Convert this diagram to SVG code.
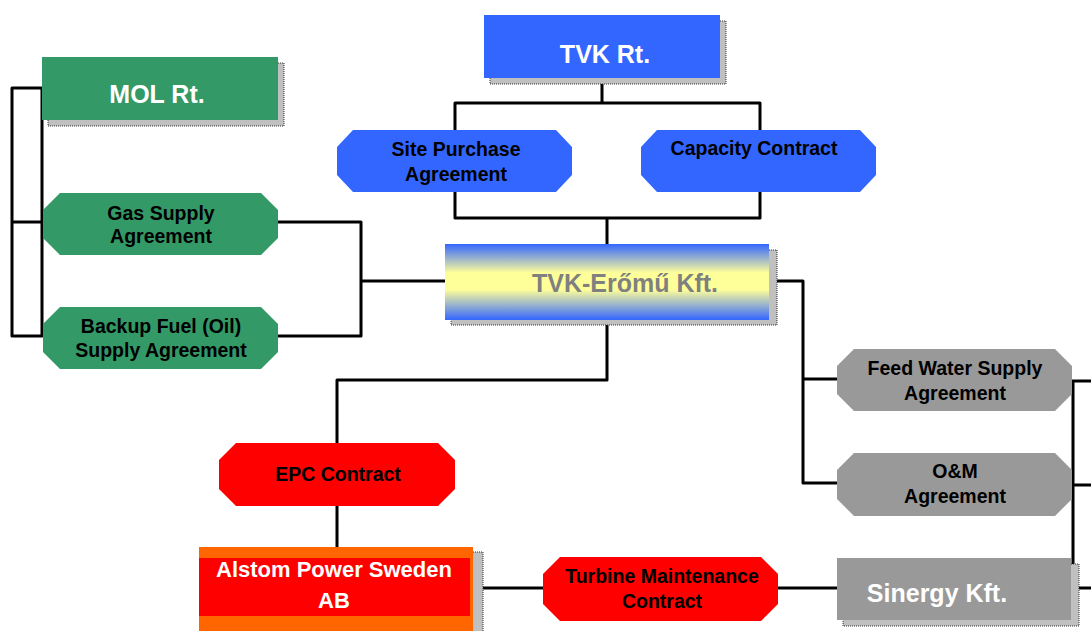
<svg xmlns="http://www.w3.org/2000/svg" width="1091" height="631" viewBox="0 0 1091 631">
<defs>
<linearGradient id="tvkGrad" x1="0" y1="0" x2="0" y2="1">
<stop offset="0" stop-color="#3366ff"/>
<stop offset="0.38" stop-color="#ffff99"/>
<stop offset="0.6" stop-color="#ffff99"/>
<stop offset="1" stop-color="#3366ff"/>
</linearGradient>
<style>
.shadow{fill:#c0c0c0;stroke:#333;stroke-width:1;stroke-dasharray:1,1}
.blue{fill:#3366ff}
.green{fill:#339966}
.red{fill:#ff0000}
.gray{fill:#999999}
.orange{fill:#ff6600}
.conn{fill:none;stroke:#000;stroke-width:3;stroke-linejoin:round;stroke-linecap:butt}
text{font-family:"Liberation Sans",Arial,sans-serif;font-weight:bold;text-anchor:middle}
.big{font-size:25px;fill:#fff}
.lbl{font-size:19.5px;fill:#000}
</style>
</defs>
<rect width="1091" height="631" fill="#fff"/>

<g id="connectors">
<path class="conn" d="M602,78 V103 M455,130 V103 H760 V130"/>
<path class="conn" d="M455,192 V218 H760 V192 M607,218 V244"/>
<path class="conn" d="M42,88 H12 V336 H42 V88 M12,222 H42"/>
<path class="conn" d="M278,222 H361 V336 H278 M361,281 H445"/>
<path class="conn" d="M769,281 H803 V483 H837 M803,379 H837"/>
<path class="conn" d="M607,320 V380 H337 V443 M337,506 V547"/>
<path class="conn" d="M482,588 H543 M778,588 H837"/>
<path class="conn" d="M1072,381 H1091 M1073,381 V588 H1091 M1073,485 H1091"/>
</g>

<g id="tvk-rt">
<rect class="shadow" x="490" y="21" width="236" height="63"/>
<rect class="blue" x="484" y="15" width="236" height="63"/>
<text class="big" x="605" y="63">TVK Rt.</text>
</g>

<g id="mol-rt">
<rect class="shadow" x="48" y="63" width="236" height="63"/>
<rect class="green" x="42" y="57" width="236" height="63"/>
<text class="big" x="157" y="103">MOL Rt.</text>
</g>

<g id="site-purchase">
<polygon class="blue" points="353,130 556,130 572,147 572,175 556,192 353,192 337,175 337,147"/>
<text class="lbl" x="456" y="156">Site Purchase</text>
<text class="lbl" x="456" y="181">Agreement</text>
</g>

<g id="capacity-contract">
<polygon class="blue" points="657,130 860,130 876,147 876,175 860,192 657,192 641,175 641,147"/>
<text class="lbl" x="754" y="155">Capacity Contract</text>
</g>

<g id="gas-supply">
<polygon class="green" points="60,193 261,193 278,210 278,238 261,255 60,255 43,238 43,210"/>
<text class="lbl" x="161" y="220">Gas Supply</text>
<text class="lbl" x="161" y="243">Agreement</text>
</g>

<g id="backup-fuel">
<polygon class="green" points="60,307 261,307 278,324 278,352 261,369 60,369 43,352 43,324"/>
<text class="lbl" x="161" y="333">Backup Fuel (Oil)</text>
<text class="lbl" x="161" y="357">Supply Agreement</text>
</g>

<g id="tvk-eromu">
<rect class="shadow" x="451" y="250" width="326" height="75"/>
<rect fill="url(#tvkGrad)" x="445" y="244" width="324" height="76"/>
<text class="big" x="625" y="292" style="fill:#808080">TVK-Erőmű Kft.</text>
</g>

<g id="feed-water">
<polygon class="gray" points="854,349 1055,349 1072,366 1072,394 1055,411 854,411 837,394 837,366"/>
<text class="lbl" x="955" y="375">Feed Water Supply</text>
<text class="lbl" x="955" y="400">Agreement</text>
</g>

<g id="om-agreement">
<polygon class="gray" points="854,453 1055,453 1072,470 1072,499 1055,516 854,516 837,499 837,470"/>
<text class="lbl" x="955" y="478">O&amp;M</text>
<text class="lbl" x="955" y="503">Agreement</text>
</g>

<g id="epc-contract">
<polygon class="red" points="236,443 438,443 455,460 455,489 438,506 236,506 219,489 219,460"/>
<text class="lbl" x="338" y="481">EPC Contract</text>
</g>

<g id="alstom">
<rect class="shadow" x="207" y="552" width="276" height="90"/>
<rect class="orange" x="199" y="547" width="274" height="90"/>
<rect class="red" x="199" y="558" width="271" height="58"/>
<text class="big" x="334" y="577" style="font-size:22px">Alstom Power Sweden</text>
<text class="big" x="334" y="608" style="font-size:22px">AB</text>
</g>

<g id="turbine-maintenance">
<polygon class="red" points="560,557 761,557 778,574 778,604 761,621 560,621 543,604 543,574"/>
<text class="lbl" x="662" y="583">Turbine Maintenance</text>
<text class="lbl" x="662" y="608">Contract</text>
</g>

<g id="sinergy">
<rect class="shadow" x="843" y="564" width="236" height="62"/>
<rect class="gray" x="837" y="558" width="234" height="62"/>
<text class="big" x="937" y="602">Sinergy Kft.</text>
</g>
</svg>
